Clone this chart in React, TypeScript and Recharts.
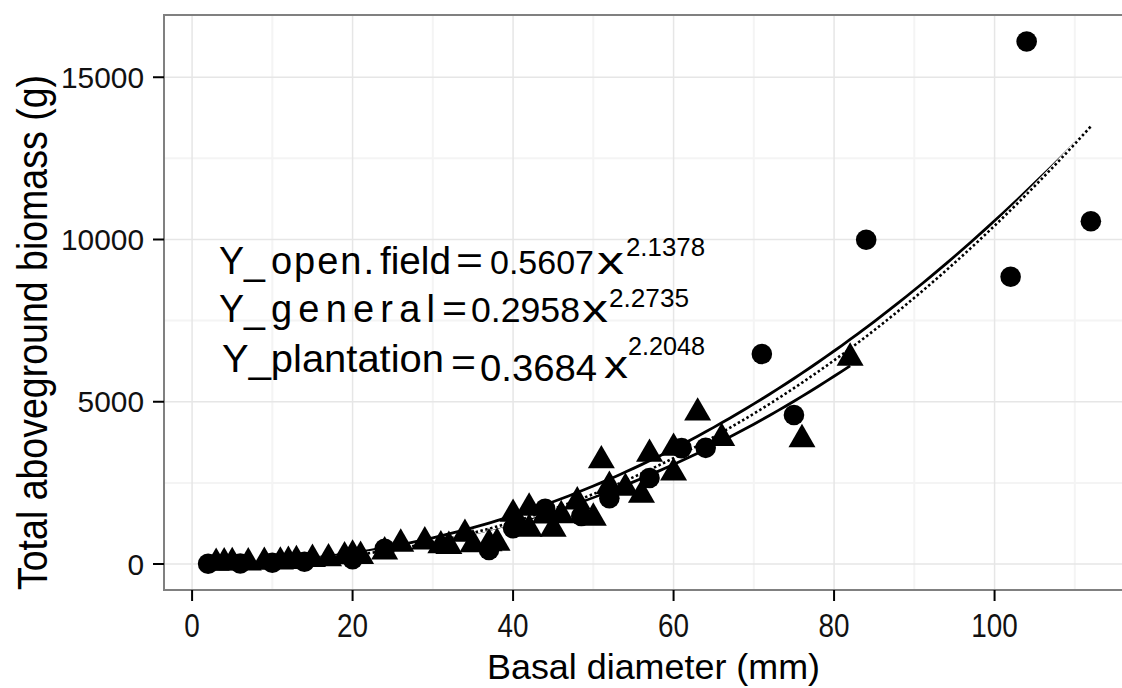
import React from 'react';
import { ComposedChart, Scatter, Line, XAxis, YAxis, CartesianGrid, ReferenceArea } from 'recharts';

// open field trees (circles)
const openFieldD = [2, 6, 10, 14, 20, 24, 37, 40, 44, 48.5, 52, 57, 61, 64, 71, 75, 84, 102, 104, 112];
const openFieldB = [10, 15, 40, 70, 150, 470, 430, 1100, 1700, 1480, 2030, 2650, 3570, 3580, 6470, 4590, 9990, 8850, 16100, 10560];

// plantation trees (triangles)
const plantationD = [3, 4, 5, 7, 9, 11, 12, 13, 15, 17, 19, 20, 21, 24, 26, 29, 31, 32, 34, 35, 37, 38, 40, 41, 42, 42, 44, 45, 46, 48, 50, 51, 52, 54, 56, 57, 60, 60, 63, 66, 76, 82];
const plantationB = [30, 40, 50, 40, 60, 70, 90, 110, 150, 170, 230, 280, 240, 380, 620, 690, 570, 550, 925, 600, 630, 650, 1540, 1100, 1730, 1080, 1490, 1080, 1500, 1920, 1420, 3190, 2400, 2340, 2130, 3390, 3575, 2810, 4660, 3880, 3840, 6350];

// fitted power models Y = a * x^b
const fitNames = ['open', 'general', 'plantation'];
const fitA = [0.5607, 0.2958, 0.3684];
const fitB = [2.1378, 2.2735, 2.2048];
const fitFrom = [2, 2, 3];
const fitTo = [112, 112, 82];

const xTicks = [0, 20, 40, 60, 80, 100];
const xMinor = [10, 30, 50, 70, 90, 110];
const yTicks = [0, 5000, 10000, 15000];
const yMinor = [2500, 7500, 12500];

const circles = openFieldD.map((d, i) => ({ x: d, y: openFieldB[i] }));
const triangles = plantationD.map((d, i) => ({ x: d, y: plantationB[i] }));

function fitLine(k: number) {
  const pts = [];
  for (let x = fitFrom[k]; x <= fitTo[k]; x += 1) {
    pts.push({ x, y: fitA[k] * Math.pow(x, fitB[k]) });
  }
  return pts;
}
const fits = fitNames.map((_, k) => fitLine(k));

const FONT = '"Liberation Sans", Arial, Helvetica, sans-serif';

const Dot = (p: any) => <circle cx={p.cx} cy={p.cy} r={10.3} fill="#000" />;
const Tri = (p: any) => {
  const r = 7.8;
  const s = Math.sqrt(3) * r;
  return <path d={`M${p.cx},${p.cy - 2 * r}L${p.cx + s},${p.cy + r}L${p.cx - s},${p.cy + r}Z`} fill="#000" />;
};

const YTick = (p: any) => {
  const s = String(p.payload.value);
  return (
    <text x={p.x} y={p.y + 10.5} textAnchor="end" fontSize={30} fontFamily={FONT} fill="#111"
      textLength={s.length * 16.6} lengthAdjust="spacingAndGlyphs">{s}</text>
  );
};
const XTick = (p: any) => {
  const s = String(p.payload.value);
  return (
    <text x={p.x} y={p.y + 34} textAnchor="middle" fontSize={34} fontFamily={FONT} fill="#111"
      textLength={s.length * 15.5} lengthAdjust="spacingAndGlyphs">{s}</text>
  );
};

// equation lines, each a list of pieces: text, left x, baseline y, width, font size, spread letters
const eqLines = [
  [['Y_', 219, 274, 46, 38, 0], ['open.', 271, 274, 103, 38, 1], ['field', 380, 274, 71, 38, 0],
    ['=', 456, 274, 27, 38, 0], ['0.5607', 490, 274, 104, 34, 0], ['x', 597, 274, 27, 38, 0], ['2.1378', 626, 256, 79, 26, 0]],
  [['Y_', 219, 322, 46, 38, 0], ['general', 271, 322, 164, 38, 1], ['=', 442, 322, 25, 38, 0],
    ['0.2958', 471, 322, 109, 35, 0], ['x', 582, 322, 26, 38, 0], ['2.2735', 609, 307, 80, 26, 0]],
  [['Y_plantation', 222, 372, 222, 38, 0], ['=', 451, 376, 25, 38, 0], ['0.3684', 480, 381, 117, 37, 0],
    ['x', 604, 378, 24, 38, 0], ['2.2048', 628, 355, 77, 26, 0]],
] as const;

export default function App() {
  return (
    <div style={{ position: 'absolute', left: 0, top: 0, width: 1122, height: 688, overflow: 'hidden', background: '#fff' }}>
      <ComposedChart width={1135} height={688} margin={{ top: 15, right: 0, bottom: 0, left: 0 }}>
        <CartesianGrid horizontalValues={yMinor} verticalValues={xMinor} stroke="#f4f4f4" strokeWidth={2} />
        <CartesianGrid horizontalValues={yTicks} verticalValues={xTicks} stroke="#e6e6e6" strokeWidth={1.5} />
        <XAxis type="number" dataKey="x" domain={[-3.5, 117.5]} ticks={xTicks} allowDataOverflow
          height={98} axisLine={false} tickSize={11} tickMargin={2}
          tickLine={{ stroke: '#000', strokeWidth: 2 }} tick={<XTick />} />
        <YAxis type="number" dataKey="y" domain={[-801, 16918]} ticks={yTicks} allowDataOverflow
          width={164} axisLine={false} tickSize={11} tickMargin={9}
          tickLine={{ stroke: '#000', strokeWidth: 2 }} tick={<YTick />} />
        <ReferenceArea x1={-3.5} x2={117.5} y1={-801} y2={16918} fill="none" stroke="#808080" strokeWidth={2} />
        <Scatter name="open field" data={circles} shape={Dot} isAnimationActive={false} />
        <Scatter name="plantation" data={triangles} shape={Tri} isAnimationActive={false} />
        <Line data={fits[0]} dataKey="y" stroke="#000" strokeWidth={2.8} dot={false} isAnimationActive={false} />
        <Line data={fits[2]} dataKey="y" stroke="#000" strokeWidth={2.8} dot={false} isAnimationActive={false} />
        <Line data={fits[1]} dataKey="y" stroke="#fff" strokeWidth={4} dot={false} isAnimationActive={false} />
        <Line data={fits[1]} dataKey="y" stroke="#000" strokeWidth={2.6} strokeDasharray="2.5 2.5" dot={false} isAnimationActive={false} />
      </ComposedChart>
      <svg width={1122} height={688} style={{ position: 'absolute', left: 0, top: 0, pointerEvents: 'none' }}>
        {eqLines.map((pieces, i) => (
          <text key={i} fontFamily={FONT} fill="#000">
            {pieces.map(([t, x, y, w, fs, spread], j) => (
              <tspan key={j} x={x} y={y} fontSize={fs} textLength={w}
                lengthAdjust={spread ? 'spacing' : 'spacingAndGlyphs'}>{t}</tspan>
            ))}
          </text>
        ))}
        <text x={487} y={679} fontSize={35} fontFamily={FONT} fill="#000" textLength={333}
          lengthAdjust="spacingAndGlyphs">Basal diameter (mm)</text>
        <text transform="translate(47,590) rotate(-90)" x={0} y={0} fontSize={42} fontFamily={FONT} fill="#000"
          textLength={515} lengthAdjust="spacingAndGlyphs">Total aboveground biomass (g)</text>
      </svg>
    </div>
  );
}
